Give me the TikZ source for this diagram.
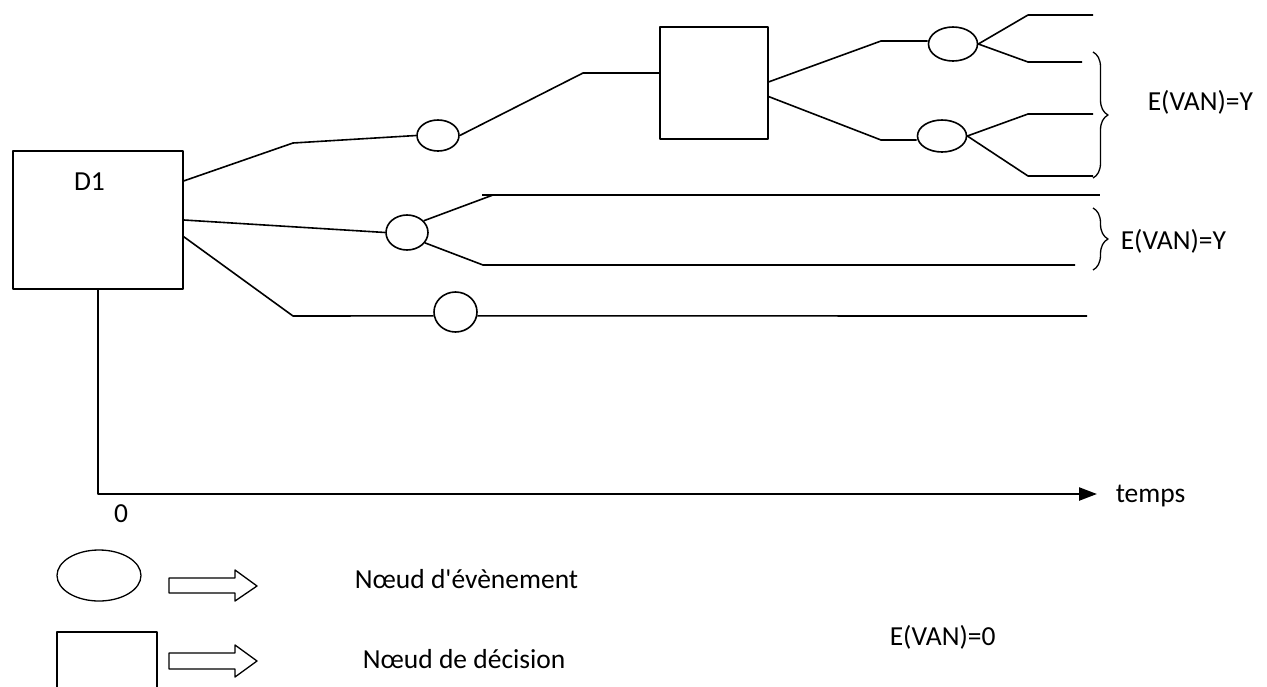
\documentclass[tikz,border=0pt]{standalone}
\usepackage{fontspec}
\setmainfont{Carlito}[Ligatures=TeXOff]
\usetikzlibrary{shapes.geometric,arrows.meta,decorations.pathreplacing,calc}
\begin{document}
\begin{tikzpicture}[x=1pt,y=-1pt, line width=1.6pt, line join=round,
  ev/.style={draw, ellipse, inner sep=0pt, line width=1.6pt},
  dec/.style={draw, rectangle, inner sep=0pt, line width=1.6pt},
  lbl/.style={font=\fontsize{27.5}{31}\selectfont, inner sep=0pt},
  br/.style={decorate, decoration={brace, amplitude=15pt}, line width=1.3pt},
  leg/.style={line width=1.3pt},
  axis/.style={line width=2.4pt}]
\useasboundingbox (0,0) rectangle (1267,686);

% decision nodes
\node[dec, minimum width=170pt, minimum height=138pt] (d1) at (98,220) {};
\node[lbl, anchor=base] (d1lab) at (89.5,190) {D1};
\node[dec, minimum width=108pt, minimum height=112pt] (d2) at (714,83) {};

% event nodes
\node[ev, minimum width=42pt, minimum height=31pt] (e1) at (438,135.5) {};
\node[ev, minimum width=42pt, minimum height=35pt] (e2) at (407,232.5) {};
\node[ev, minimum width=43pt, minimum height=40pt] (e5) at (455.5,312) {};
\node[ev, minimum width=49pt, minimum height=34pt] (e3) at (953,44) {};
\node[ev, minimum width=49pt, minimum height=32pt] (e4) at (942,136) {};

% corners and free ends
\coordinate (c1) at (293,143);
\coordinate (c2) at (583,73);
\coordinate (c3) at (881,41);
\coordinate (c4) at (881,140);
\coordinate (c5) at (1028,15);
\coordinate (t1) at (1093,15);
\coordinate (c6) at (1028,62);
\coordinate (t2) at (1082,62);
\coordinate (c7) at (1028,114);
\coordinate (t3) at (1093,114);
\coordinate (c8) at (1028,176);
\coordinate (t4) at (1093,176);
\coordinate (c9) at (493,195);
\coordinate (c10) at (482,195);
\coordinate (t5) at (1100,195);
\coordinate (c11) at (483,265);
\coordinate (t6) at (1075,265);
\coordinate (c12) at (293,316);
\coordinate (t7) at (1087,316);
\coordinate (o) at (98,494);
\coordinate (axend) at (1097,494);

% top branch
\draw ($(d1.north east)!0.22!(d1.south east)$) -- (c1) -- (e1.west);
\draw (e1.east) -- (c2) -- (d2.west |- c2);
\draw ($(d2.north east)!0.49!(d2.south east)$) -- (c3) -- (c3 -| e3.west);
\draw ($(d2.north east)!0.62!(d2.south east)$) -- (c4) -- (c4 -| e4.west);
\draw (e3.east) -- (c5) -- (t1);
\draw (e3.east) -- (c6) -- (t2);
\draw (e4.east) -- (c7) -- (t3);
\draw (e4.east) -- (c8) -- (t4);

% middle branch
\draw (d1.east) -- (e2.west);
\draw (e2.35) -- (c9);
\draw (c10) -- (t5);
\draw (e2.-30) -- (c11) -- (t6);

% bottom branch
\draw ($(d1.north east)!0.62!(d1.south east)$) -- (c12) -- (e5.190);
\draw (e5.-10) -- (t7);

% braces and values
\draw[br] (1093,52) -- (1093,178);
\draw[br] (1093,208) -- (1093,270);
\node[lbl, anchor=base west] (v1) at (1147,110) {E(VAN)=Y};
\node[lbl, anchor=base west] (v2) at (1120,249) {E(VAN)=Y};
\node[lbl, anchor=base west] (v0) at (889,645) {E(VAN)=0};

% time axis
\draw[axis, -{Triangle[length=18pt,width=13pt]}] (d1.south) -- (o) -- (axend);
\node[lbl, anchor=base west] (temps) at (1115,502) {temps};
\node[lbl, anchor=base] (zero) at (121,522) {0};

% legend
\node[ev, leg, minimum width=84pt, minimum height=51pt] (lev) at (99,575.5) {};
\node[dec, leg, minimum width=100pt, minimum height=100pt] (ldec) at (107,682) {};
\draw[leg] (169,578) -- (235,578) -- (235,570) -- (257,586) -- (235,601) -- (235,593) -- (169,593) -- cycle;
\draw[leg] (169,653) -- (235,653) -- (235,645) -- (257,661) -- (235,677) -- (235,669) -- (169,669) -- cycle;
\node[lbl, anchor=base west] (nev) at (354,588) {Nœud d'évènement};
\node[lbl, anchor=base west] (ndec) at (362,668) {Nœud de décision};
\end{tikzpicture}
\end{document}
